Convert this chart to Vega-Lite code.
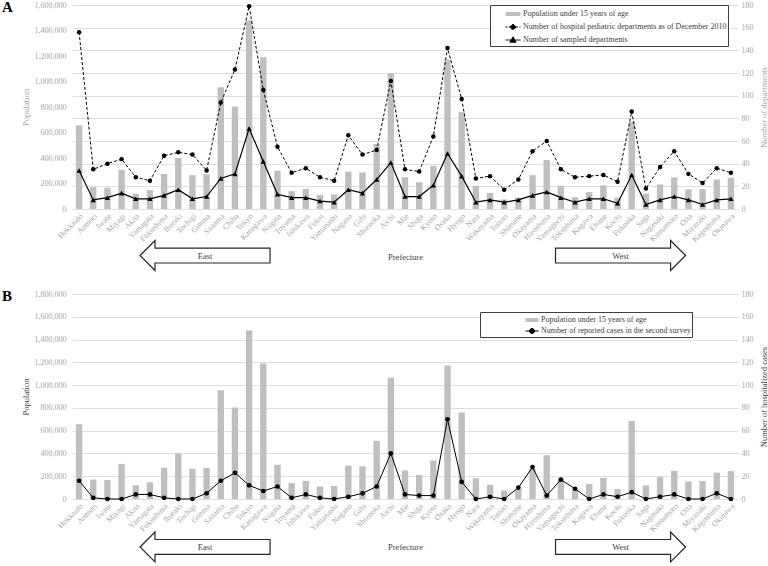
{
  "$schema": "https://vega.github.io/schema/vega-lite/v6.json",
  "padding": {"left": 2, "top": 0, "right": 0, "bottom": 0},
  "config": {
    "font": "Liberation Serif",
    "view": {"stroke": null},
    "axis": {"labelFont": "Liberation Serif", "titleFont": "Liberation Serif", "labelFontSize": 8, "titleFontSize": 8.5, "labelColor": "#a6a6a6", "titleColor": "#a6a6a6", "titleFontWeight": "normal", "ticks": false, "domain": false, "gridColor": "#dedede", "gridWidth": 1, "labelOverlap": false},
    "legend": {"labelFont": "Liberation Serif", "labelFontSize": 8, "labelColor": "#404040", "strokeColor": "#404040", "fillColor": "white", "labelLimit": 400, "symbolOpacity": 1, "symbolStrokeWidth": 1}
  },
  "resolve": {"scale": {"shape": "independent", "fill": "independent", "stroke": "independent", "strokeDash": "independent"}, "legend": {"shape": "independent", "fill": "independent", "stroke": "independent", "strokeDash": "independent"}},
  "datasets": {
    "pref": [
      {"p": "Hokkaido", "pop": 657000, "hosp": 156, "samp": 34, "cases": 16},
      {"p": "Aomori", "pop": 171000, "hosp": 35, "samp": 8, "cases": 1},
      {"p": "Iwate", "pop": 167000, "hosp": 40, "samp": 10, "cases": 0},
      {"p": "Miyagi", "pop": 308000, "hosp": 44, "samp": 14, "cases": 0},
      {"p": "Akita", "pop": 120000, "hosp": 28, "samp": 9, "cases": 4},
      {"p": "Yamagata", "pop": 147000, "hosp": 25, "samp": 9, "cases": 4},
      {"p": "Fukushima", "pop": 275000, "hosp": 47, "samp": 12, "cases": 1},
      {"p": "Ibaraki", "pop": 400000, "hosp": 50, "samp": 17, "cases": 0},
      {"p": "Tochigi", "pop": 266000, "hosp": 48, "samp": 9, "cases": 0},
      {"p": "Gunma", "pop": 273000, "hosp": 34, "samp": 11, "cases": 5},
      {"p": "Saitama", "pop": 955000, "hosp": 94, "samp": 27, "cases": 16},
      {"p": "Chiba", "pop": 803000, "hosp": 123, "samp": 31, "cases": 23},
      {"p": "Tokyo", "pop": 1480000, "hosp": 179, "samp": 71, "cases": 12},
      {"p": "Kanagawa", "pop": 1190000, "hosp": 105, "samp": 42, "cases": 7},
      {"p": "Niigata", "pop": 300000, "hosp": 55, "samp": 13, "cases": 11},
      {"p": "Toyama", "pop": 140000, "hosp": 32, "samp": 10, "cases": 1},
      {"p": "Ishikawa", "pop": 158000, "hosp": 36, "samp": 10, "cases": 4},
      {"p": "Fukui", "pop": 111000, "hosp": 28, "samp": 7, "cases": 1},
      {"p": "Yamanashi", "pop": 114000, "hosp": 25, "samp": 6, "cases": 0},
      {"p": "Nagano", "pop": 293000, "hosp": 65, "samp": 17, "cases": 2},
      {"p": "Gifu", "pop": 287000, "hosp": 48, "samp": 14, "cases": 5},
      {"p": "Shizuoka", "pop": 510000, "hosp": 52, "samp": 26, "cases": 11},
      {"p": "Aichi", "pop": 1065000, "hosp": 113, "samp": 41, "cases": 40},
      {"p": "Mie", "pop": 250000, "hosp": 35, "samp": 11, "cases": 4},
      {"p": "Shiga", "pop": 210000, "hosp": 33, "samp": 11, "cases": 3},
      {"p": "Kyoto", "pop": 338000, "hosp": 64, "samp": 21, "cases": 3},
      {"p": "Osaka", "pop": 1172000, "hosp": 142, "samp": 49, "cases": 70},
      {"p": "Hyogo", "pop": 760000, "hosp": 97, "samp": 29, "cases": 15},
      {"p": "Nara", "pop": 182000, "hosp": 27, "samp": 6, "cases": 0},
      {"p": "Wakayama", "pop": 125000, "hosp": 29, "samp": 8, "cases": 2},
      {"p": "Tottori", "pop": 75000, "hosp": 17, "samp": 6, "cases": 0},
      {"p": "Shimane", "pop": 90000, "hosp": 26, "samp": 8, "cases": 10},
      {"p": "Okayama", "pop": 265000, "hosp": 51, "samp": 12, "cases": 28},
      {"p": "Hiroshima", "pop": 385000, "hosp": 60, "samp": 15, "cases": 3},
      {"p": "Yamaguchi", "pop": 182000, "hosp": 35, "samp": 10, "cases": 17},
      {"p": "Tokushima", "pop": 92000, "hosp": 28, "samp": 6, "cases": 9},
      {"p": "Kagawa", "pop": 132000, "hosp": 29, "samp": 9, "cases": 0},
      {"p": "Ehime", "pop": 185000, "hosp": 30, "samp": 9, "cases": 4},
      {"p": "Kochi", "pop": 88000, "hosp": 24, "samp": 5, "cases": 2},
      {"p": "Fukuoka", "pop": 685000, "hosp": 86, "samp": 30, "cases": 6},
      {"p": "Saga", "pop": 120000, "hosp": 18, "samp": 4, "cases": 0},
      {"p": "Nagasaki", "pop": 192000, "hosp": 37, "samp": 8, "cases": 2},
      {"p": "Kumamoto", "pop": 248000, "hosp": 51, "samp": 11, "cases": 4},
      {"p": "Oita", "pop": 154000, "hosp": 31, "samp": 8, "cases": 0},
      {"p": "Miyazaki", "pop": 157000, "hosp": 23, "samp": 4, "cases": 0},
      {"p": "Kagoshima", "pop": 231000, "hosp": 36, "samp": 8, "cases": 5},
      {"p": "Okinawa", "pop": 245000, "hosp": 32, "samp": 9, "cases": 0}
    ]
  },
  "spacing": 16,
  "vconcat": [
    {
      "width": 666,
      "height": 204,
      "title": {"text": "A", "anchor": "start", "frame": "bounds", "offset": -14, "dx": -19, "fontSize": 15, "font": "Liberation Serif", "fontWeight": "bold", "color": "black"},
      "layer": [
        {
          "data": {"name": "pref"},
          "encoding": {
            "x": {"field": "p", "type": "nominal", "sort": null, "scale": {"paddingInner": 0.55, "paddingOuter": 0.275}, "axis": {"labelAngle": -45, "title": "Prefecture", "titleColor": "#404040", "titlePadding": 9, "labelPadding": 3}}
          },
          "layer": [
            {
              "mark": {"type": "bar", "color": "#bfbfbf"},
              "encoding": {
                "y": {"field": "pop", "type": "quantitative", "scale": {"domain": [0, 1600000], "nice": false}, "axis": {"values": [0, 200000, 400000, 600000, 800000, 1000000, 1200000, 1400000, 1600000], "format": ",d", "grid": false, "title": "Population", "labelPadding": 6, "titlePadding": 4, "labelOverlap": false}}
              }
            },
            {
              "encoding": {
                "y": {"type": "quantitative", "title": "Number of departments", "scale": {"domain": [0, 180], "nice": false}, "axis": {"orient": "right", "values": [0, 20, 40, 60, 80, 100, 120, 140, 160, 180], "labelOverlap": false, "grid": true, "title": "Number of departments", "titleAngle": -90, "titleBaseline": "top", "labelPadding": 3, "titlePadding": 6}}
              },
              "layer": [
                {
                  "mark": {"type": "line", "color": "black", "strokeDash": [3, 2], "strokeWidth": 1},
                  "encoding": {"y": {"field": "hosp"}}
                },
                {
                  "mark": {"type": "point", "filled": true, "color": "black", "size": 20, "opacity": 1, "shape": "circle"},
                  "encoding": {"y": {"field": "hosp"}}
                },
                {
                  "mark": {"type": "line", "color": "black", "strokeWidth": 1.2},
                  "encoding": {"y": {"field": "samp"}}
                },
                {
                  "mark": {"type": "point", "filled": true, "color": "black", "size": 28, "opacity": 1, "shape": "triangle-up"},
                  "encoding": {"y": {"field": "samp"}}
                },
                {
                  "mark": {"type": "point", "filled": true, "opacity": 0, "size": 10},
                  "encoding": {
                    "y": {"field": "samp"},
                    "shape": {
                      "datum": "Number of sampled departments",
                      "scale": {"domain": ["Population under 15 years of age", "Number of hospital pediatric departments as of December 2010", "Number of sampled departments"], "range": ["M-1,-0.27L1,-0.27L1,0.27L-1,0.27Z", "M-1,0L1,0M0.33,0A0.33,0.33,0,1,1,-0.33,0A0.33,0.33,0,1,1,0.33,0Z", "M-1,0L1,0M0,-0.42L0.42,0.3L-0.42,0.3Z"]},
                      "legend": {"orient": "none", "legendX": 418, "legendY": 0, "title": null, "padding": 1, "symbolOffset": 14, "symbolSize": 225, "rowPadding": 0, "labelOffset": 2}
                    },
                    "fill": {
                      "datum": "Number of sampled departments",
                      "scale": {"domain": ["Population under 15 years of age", "Number of hospital pediatric departments as of December 2010", "Number of sampled departments"], "range": ["#bfbfbf", "#000000", "#000000"]},
                      "legend": {"orient": "none", "legendX": 418, "legendY": 0, "title": null, "padding": 1, "symbolOffset": 14, "symbolSize": 225, "rowPadding": 0, "labelOffset": 2}
                    },
                    "stroke": {
                      "datum": "Number of sampled departments",
                      "scale": {"domain": ["Population under 15 years of age", "Number of hospital pediatric departments as of December 2010", "Number of sampled departments"], "range": ["transparent", "#000000", "#000000"]},
                      "legend": {"orient": "none", "legendX": 418, "legendY": 0, "title": null, "padding": 1, "symbolOffset": 14, "symbolSize": 225, "rowPadding": 0, "labelOffset": 2}
                    },
                    "strokeDash": {
                      "datum": "Number of sampled departments",
                      "scale": {"domain": ["Population under 15 years of age", "Number of hospital pediatric departments as of December 2010", "Number of sampled departments"], "range": [[1, 0], [2, 1.5], [1, 0]]},
                      "legend": {"orient": "none", "legendX": 418, "legendY": 0, "title": null, "padding": 1, "symbolOffset": 14, "symbolSize": 225, "rowPadding": 0, "labelOffset": 2}
                    }
                  }
                }
              ]
            }
          ],
          "resolve": {"scale": {"y": "independent"}}
        },
        {
          "data": {"values": [{"dir": "East", "pos": 9.39, "lev": -0.228}, {"dir": "West", "pos": 38.71, "lev": -0.228}]},
          "encoding": {
            "x": {"field": "pos", "type": "quantitative", "scale": {"domain": [0, 47], "nice": false, "zero": false}, "axis": null},
            "y": {"field": "lev", "type": "quantitative", "scale": {"domain": [0, 1], "nice": false}, "axis": null}
          },
          "layer": [
            {"transform": [{"filter": "datum.dir === 'East'"}], "mark": {"type": "point", "shape": "M-1,0L-0.77,-0.23L-0.77,-0.115L1,-0.115L1,0.115L-0.77,0.115L-0.77,0.23Z", "size": 16900, "filled": true, "fill": "white", "stroke": "#262626", "strokeWidth": 1.2, "opacity": 1, "clip": false}},
            {"transform": [{"filter": "datum.dir === 'West'"}], "mark": {"type": "point", "shape": "M1,0L0.77,-0.23L0.77,-0.115L-1,-0.115L-1,0.115L0.77,0.115L0.77,0.23Z", "size": 16900, "filled": true, "fill": "white", "stroke": "#262626", "strokeWidth": 1.2, "opacity": 1, "clip": false}},
            {"mark": {"type": "text", "fontSize": 8.5, "color": "#404040", "font": "Liberation Serif"}, "encoding": {"text": {"field": "dir"}}}
          ]
        }
      ],
      "resolve": {"scale": {"x": "independent", "y": "independent"}}
    },
    {
      "width": 666,
      "height": 205,
      "title": {"text": "B", "anchor": "start", "frame": "bounds", "offset": -14, "dx": -19, "fontSize": 15, "font": "Liberation Serif", "fontWeight": "bold", "color": "black"},
      "layer": [
        {
          "data": {"name": "pref"},
          "encoding": {
            "x": {"field": "p", "type": "nominal", "sort": null, "scale": {"paddingInner": 0.55, "paddingOuter": 0.275}, "axis": {"labelAngle": -45, "title": "Prefecture", "titleColor": "#404040", "titlePadding": 9, "labelPadding": 3}}
          },
          "layer": [
            {
              "mark": {"type": "bar", "color": "#bfbfbf"},
              "encoding": {
                "y": {"field": "pop", "type": "quantitative", "scale": {"domain": [0, 1800000], "nice": false}, "axis": {"values": [0, 200000, 400000, 600000, 800000, 1000000, 1200000, 1400000, 1600000, 1800000], "format": ",d", "grid": false, "title": "Population", "titleColor": "#404040", "labelPadding": 6, "titlePadding": 4, "labelOverlap": false}}
              }
            },
            {
              "encoding": {
                "y": {"field": "cases", "type": "quantitative", "title": "Number of hospitalized cases", "scale": {"domain": [0, 180], "nice": false}, "axis": {"orient": "right", "values": [0, 20, 40, 60, 80, 100, 120, 140, 160, 180], "labelOverlap": false, "grid": true, "title": "Number of hospitalized cases", "titleColor": "#404040", "titleAngle": -90, "titleBaseline": "top", "labelPadding": 3, "titlePadding": 6}}
              },
              "layer": [
                {
                  "mark": {"type": "line", "color": "black", "strokeWidth": 1}
                },
                {
                  "mark": {"type": "point", "filled": true, "color": "black", "size": 22, "opacity": 1, "shape": "circle"}
                },
                {
                  "mark": {"type": "point", "filled": true, "opacity": 0, "size": 10},
                  "encoding": {
                    "shape": {
                      "datum": "Number of reported cases in the second survey",
                      "scale": {"domain": ["Population under 15 years of age", "Number of reported cases in the second survey"], "range": ["M-1,-0.3L1,-0.3L1,0.3L-1,0.3Z", "M-1,0L1,0M0.38,0A0.38,0.38,0,1,1,-0.38,0A0.38,0.38,0,1,1,0.38,0Z"]},
                      "legend": {"orient": "none", "legendX": 408, "legendY": 18, "title": null, "padding": 1, "symbolOffset": 44, "symbolSize": 169, "rowPadding": 0, "labelOffset": 2}
                    },
                    "fill": {
                      "datum": "Number of reported cases in the second survey",
                      "scale": {"domain": ["Population under 15 years of age", "Number of reported cases in the second survey"], "range": ["#bfbfbf", "#000000"]},
                      "legend": {"orient": "none", "legendX": 408, "legendY": 18, "title": null, "padding": 1, "symbolOffset": 44, "symbolSize": 169, "rowPadding": 0, "labelOffset": 2}
                    },
                    "stroke": {
                      "datum": "Number of reported cases in the second survey",
                      "scale": {"domain": ["Population under 15 years of age", "Number of reported cases in the second survey"], "range": ["transparent", "#000000"]},
                      "legend": {"orient": "none", "legendX": 408, "legendY": 18, "title": null, "padding": 1, "symbolOffset": 44, "symbolSize": 169, "rowPadding": 0, "labelOffset": 2}
                    }
                  }
                }
              ]
            }
          ],
          "resolve": {"scale": {"y": "independent"}}
        },
        {
          "data": {"values": [{"dir": "East", "pos": 9.39, "lev": -0.234}, {"dir": "West", "pos": 38.71, "lev": -0.234}]},
          "encoding": {
            "x": {"field": "pos", "type": "quantitative", "scale": {"domain": [0, 47], "nice": false, "zero": false}, "axis": null},
            "y": {"field": "lev", "type": "quantitative", "scale": {"domain": [0, 1], "nice": false}, "axis": null}
          },
          "layer": [
            {"transform": [{"filter": "datum.dir === 'East'"}], "mark": {"type": "point", "shape": "M-1,0L-0.77,-0.23L-0.77,-0.115L1,-0.115L1,0.115L-0.77,0.115L-0.77,0.23Z", "size": 16900, "filled": true, "fill": "white", "stroke": "#262626", "strokeWidth": 1.2, "opacity": 1, "clip": false}},
            {"transform": [{"filter": "datum.dir === 'West'"}], "mark": {"type": "point", "shape": "M1,0L0.77,-0.23L0.77,-0.115L-1,-0.115L-1,0.115L0.77,0.115L0.77,0.23Z", "size": 16900, "filled": true, "fill": "white", "stroke": "#262626", "strokeWidth": 1.2, "opacity": 1, "clip": false}},
            {"mark": {"type": "text", "fontSize": 8.5, "color": "#404040", "font": "Liberation Serif"}, "encoding": {"text": {"field": "dir"}}}
          ]
        }
      ],
      "resolve": {"scale": {"x": "independent", "y": "independent"}}
    }
  ]
}
